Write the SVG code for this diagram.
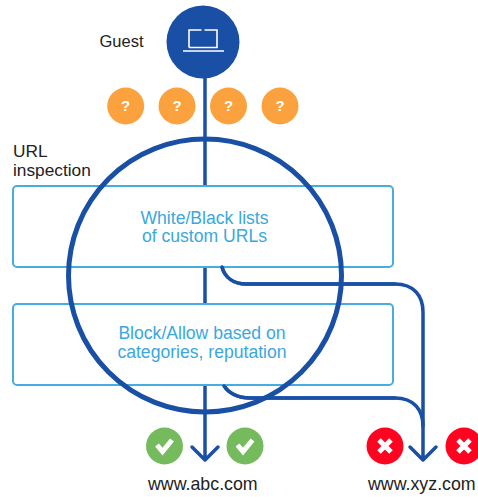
<svg xmlns="http://www.w3.org/2000/svg" width="478" height="497" viewBox="0 0 478 497">
<style>
text{font-family:"Liberation Sans",Arial,sans-serif;font-size:17.300px;fill:#222}
.box{fill:#fff;stroke:#45ade0;stroke-width:2}
text.bt{fill:#3aa8de;text-anchor:middle;font-size:17.600px}
.ln{fill:none;stroke:#1a4fa6;stroke-width:3.5;stroke-linejoin:round;stroke-linecap:round}
.q{fill:#fba23f}
text.qt{fill:#fff;font-size:15px;font-weight:bold;text-anchor:middle}
text.url{font-size:17.800px}
.ok{fill:#75bb5e}
.no{fill:#fe0420}
.mk{fill:none;stroke:#fff;stroke-width:5}
</style>
<defs>
<g id="check"><circle class="ok" r="18.5"/><path class="mk" d="M-7.5 -1L-2 5.5L7.5 -6"/></g>
<g id="cross"><circle class="no" r="18.5"/><path class="mk" d="M-6 -6L6 6M6 -6L-6 6"/></g>
</defs>
<g id="connectors">
<path class="ln" d="M205 70V458M192 447L205 460L218 447"/>
<path class="ln" d="M222 267C225 278 234 284 246 284H395C414 284 423 296 423 312V458M410 447L423 460L436 447"/>
<path class="ln" d="M224 385C228 393 238 398 250 398H395C414 398 423 410 423 426"/>
</g>
<g id="box-lists"><rect class="box" x="13" y="186" width="380" height="81" rx="4"/><text class="bt" x="204.500" y="224">White/Black lists</text><text class="bt" x="204.500" y="242">of custom URLs</text></g>
<g id="box-categories"><rect class="box" x="13" y="304" width="380" height="81" rx="4"/><text class="bt" x="202" y="339">Block/Allow based on</text><text class="bt" x="202" y="358">categories, reputation</text></g>
<g id="connectors-over">
<path class="ln" d="M222 267C225 278 234 284 246 284H395"/>
<path class="ln" d="M224 386C228 393 238 398 250 398H395"/>
</g>
<g id="inspection-circle"><circle cx="205" cy="275.5" r="136.500" fill="none" stroke="#1a4fa6" stroke-width="5"/></g>
<g id="inspection-label"><text x="13" y="157">URL</text><text x="13" y="176">inspection</text></g>
<g id="guest"><circle cx="203" cy="42" r="36.500" fill="#1a4fa6"/>
<path d="M189 47.500V30H201.500M204.500 30H217V47.500H189M183 51H224" fill="none" stroke="#fff" stroke-width="1.6"/>
<text x="99.500" y="47" style="font-size:16.500px">Guest</text></g>
<g id="q1"><circle class="q" cx="125.700" cy="106" r="18.500"/><text class="qt" x="125.700" y="111">?</text></g>
<g id="q2"><circle class="q" cx="177" cy="106" r="18.500"/><text class="qt" x="177" y="111">?</text></g>
<g id="q3"><circle class="q" cx="228.500" cy="106" r="18.500"/><text class="qt" x="228.500" y="111">?</text></g>
<g id="q4"><circle class="q" cx="280" cy="106" r="18.500"/><text class="qt" x="280" y="111">?</text></g>
<g id="abc"><use href="#check" x="164.500" y="446"/><use href="#check" x="245" y="446"/><text class="url" x="148" y="490">www.abc.com</text></g>
<g id="xyz"><use href="#cross" x="385" y="446"/><use href="#cross" x="464" y="446"/><text class="url" x="368" y="490">www.xyz.com</text></g>
</svg>
